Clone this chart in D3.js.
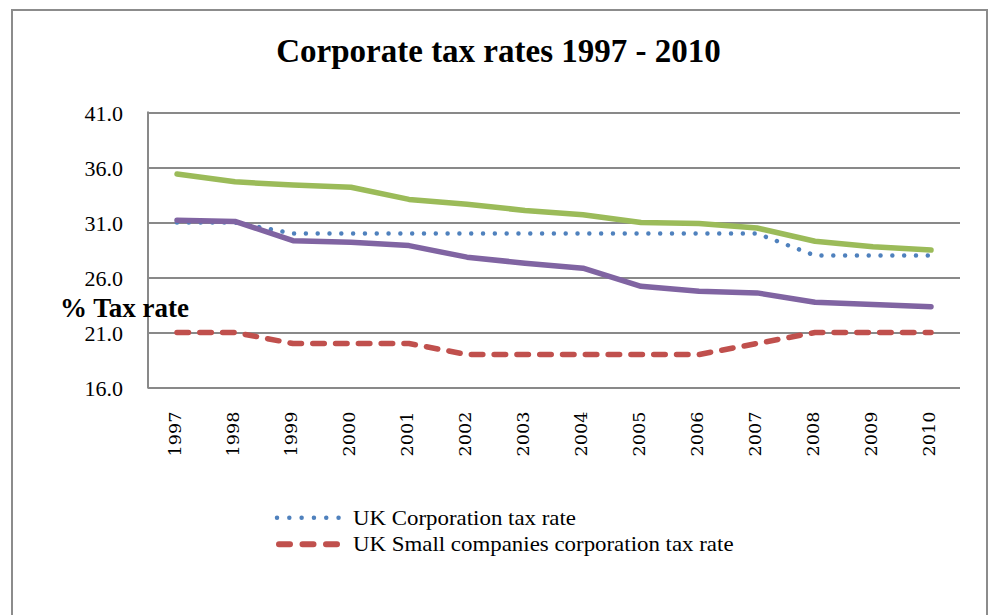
<!DOCTYPE html>
<html>
<head>
<meta charset="utf-8">
<script src="https://cdn.jsdelivr.net/npm/d3@7"></script>
<style>
  html, body { margin: 0; padding: 0; background: #ffffff; }
  svg { display: block; }
</style>
</head>
<body>
<svg id="chart" width="992" height="615"></svg>
<script>
// Tax rate data, 1997-2010 (percent)
const years = ["1997","1998","1999","2000","2001","2002","2003","2004","2005","2006","2007","2008","2009","2010"];
const ukCorporationRate = [31, 31, 30, 30, 30, 30, 30, 30, 30, 30, 30, 28, 28, 28];
const ukSmallCompaniesRate = [21, 21, 20, 20, 20, 19, 19, 19, 19, 19, 20, 21, 21, 21];
const benchmarkRateHigh = [35.4, 34.7, 34.4, 34.2, 33.1, 32.65, 32.1, 31.7, 31.0, 30.9, 30.5, 29.3, 28.8, 28.5];
const benchmarkRateLow = [31.2, 31.1, 29.35, 29.2, 28.9, 27.85, 27.3, 26.85, 25.2, 24.75, 24.6, 23.75, 23.55, 23.35];
const yTicks = [16, 21, 26, 31, 36, 41];
const legendLabels = ["UK Corporation tax rate", "UK Small companies corporation tax rate"];
const chartTitle = "Corporate tax rates 1997 - 2010";
const axisTitle = "% Tax rate";

const svg = d3.select("#chart");
const W = 992, H = 615;
const plot = { left: 148, right: 960, top: 112.5, bottom: 387.5 };
const gridColor = "#898989";
const serif = "'Liberation Serif', 'Times New Roman', serif";

svg.append("rect").attr("width", W).attr("height", H).attr("fill", "#ffffff");

// outer chart frame (open at the bottom edge)
svg.append("path")
  .attr("d", "M12,630 V10 H987 V630")
  .attr("fill", "none")
  .attr("stroke", "#8c8c8c")
  .attr("stroke-width", 2);

const x = d3.scaleBand().domain(years).range([plot.left, plot.right]).padding(0);
const cx = d => x(d) + x.bandwidth() / 2;
const y = d3.scaleLinear().domain([16, 41]).range([plot.bottom, plot.top]);

// horizontal gridlines + y tick labels
const yAxis = svg.append("g")
  .attr("transform", `translate(${plot.left},0)`)
  .call(d3.axisLeft(y).tickValues(yTicks).tickSize(-(plot.right - plot.left)).tickFormat(d3.format(".1f")));
yAxis.select(".domain").remove();
yAxis.selectAll(".tick line")
  .attr("stroke", gridColor)
  .attr("stroke-width", 2);
const yStretch = 1.1;
yAxis.selectAll(".tick text")
  .attr("font-family", serif)
  .attr("font-size", 20)
  .attr("fill", "#000")
  .attr("text-anchor", "end")
  .attr("dy", null)
  .attr("x", -25 / yStretch)
  .attr("y", 8)
  .attr("transform", `scale(${yStretch},1)`);

// vertical axis line
svg.append("line")
  .attr("x1", plot.left).attr("x2", plot.left)
  .attr("y1", plot.top - 1).attr("y2", plot.bottom + 1)
  .attr("stroke", gridColor).attr("stroke-width", 2);

// category axis with rotated year labels
const xAxis = svg.append("g")
  .attr("transform", `translate(0,${plot.bottom})`)
  .call(d3.axisBottom(x).tickSize(0));
xAxis.select(".domain").remove();
xAxis.selectAll(".tick text")
  .attr("font-family", "'DejaVu Serif', serif")
  .attr("font-size", 16.5)
  .attr("fill", "#000")
  .attr("text-anchor", "end")
  .attr("x", 0).attr("y", 0).attr("dy", null)
  .attr("transform", "translate(3.5,24) rotate(-90) scale(1.07,1)");

// series lines
const lineGen = d3.line().x((d, i) => cx(years[i])).y(d => y(d));
const series = [
  { values: ukCorporationRate, color: "#4F81BD", width: 4.5, dash: "0.01 11.8" },
  { values: ukSmallCompaniesRate, color: "#C0504D", width: 5.5, dash: "11.5 11.3" },
  { values: benchmarkRateHigh, color: "#9BBB59", width: 5.5, dash: null },
  { values: benchmarkRateLow, color: "#8064A2", width: 5.5, dash: null }
];
svg.append("g").selectAll("path")
  .data(series)
  .join("path")
  .attr("d", s => lineGen(s.values))
  .attr("fill", "none")
  .attr("stroke", s => s.color)
  .attr("stroke-width", s => s.width)
  .attr("stroke-linecap", "round")
  .attr("stroke-linejoin", "round")
  .attr("stroke-dasharray", s => s.dash);

// title
svg.append("text")
  .attr("x", 498.5).attr("y", 62)
  .attr("text-anchor", "middle")
  .attr("font-family", serif)
  .attr("font-weight", "bold")
  .attr("font-size", 33)
  .attr("fill", "#000")
  .text(chartTitle);

// value axis title
svg.append("text")
  .attr("x", 60).attr("y", 317)
  .attr("font-family", serif)
  .attr("font-weight", "bold")
  .attr("font-size", 27)
  .attr("fill", "#000")
  .text(axisTitle);

// legend
const legendItems = [
  { label: legendLabels[0], color: "#4F81BD", width: 4.5, dash: "0.01 12.3", x1: 277, x2: 339, y: 517.7, ty: 524.5 },
  { label: legendLabels[1], color: "#C0504D", width: 6, dash: "11 12.5", x1: 279, x2: 337, y: 544.3, ty: 551 }
];
const legend = svg.append("g");
legend.selectAll("line")
  .data(legendItems)
  .join("line")
  .attr("x1", d => d.x1).attr("x2", d => d.x2)
  .attr("y1", d => d.y).attr("y2", d => d.y)
  .attr("stroke", d => d.color)
  .attr("stroke-width", d => d.width)
  .attr("stroke-linecap", "round")
  .attr("stroke-dasharray", d => d.dash);
legend.selectAll("text")
  .data(legendItems)
  .join("text")
  .attr("transform", d => `translate(353,${d.ty}) scale(1.09,1)`)
  .attr("font-family", serif)
  .attr("font-size", 21)
  .attr("fill", "#000")
  .text(d => d.label);
</script>
</body>
</html>
